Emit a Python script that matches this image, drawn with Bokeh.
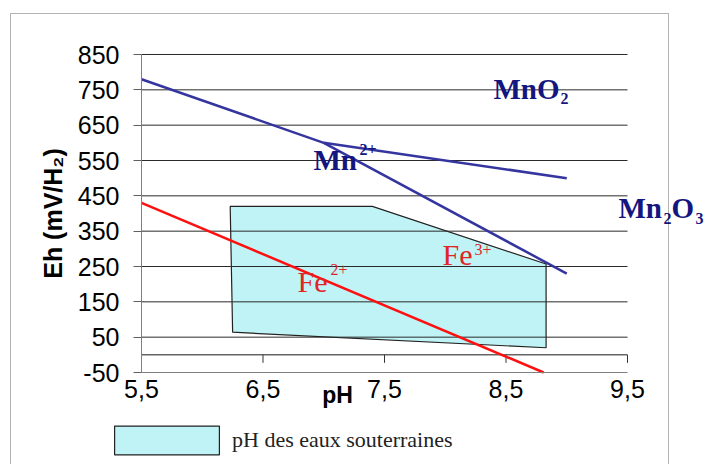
import math
from bokeh.plotting import figure
from bokeh.models import Range1d, FixedTicker, Label, BoxAnnotation
from bokeh.embed import file_html
from bokeh.resources import INLINE

# ---- data ----
x_ticks = [5.5, 6.5, 7.5, 8.5, 9.5]
x_tick_labels = ["5,5", "6,5", "7,5", "8,5", "9,5"]
y_ticks = [-50, 50, 150, 250, 350, 450, 550, 650, 750, 850]
y_tick_labels = ["-50", "50", "150", "250", "350", "450", "550", "650", "750", "850"]

mn_main_ph = [5.5, 7.0, 9.0]
mn_main_eh = [780, 600, 230]
mn_upper_ph = [7.0, 9.0]
mn_upper_eh = [600, 500]
fe_ph = [5.5, 8.81]
fe_eh = [430, -50]
water_ph = [6.23, 7.4, 8.83, 8.83, 6.25]
water_eh = [420, 420, 257, 20, 64]

BLUE_LINE = "#3535a0"
BLUE_TEXT = "#15157f"
RED_LINE = "#ff1010"
RED_TEXT = "#e02525"

# ---- layout: the frame fills the canvas; axes are pinned at fixed locations ----
W, H = 704, 464
FRAME_L, FRAME_R, FRAME_T, FRAME_B = 141, 627, 54, 372
sx = (FRAME_R - FRAME_L) / (x_ticks[-1] - x_ticks[0])
sy = (FRAME_B - FRAME_T) / (y_ticks[-1] - y_ticks[0])
x0 = x_ticks[0] - FRAME_L / sx
x1 = x_ticks[-1] + (W - FRAME_R) / sx
y0 = y_ticks[0] - (H - FRAME_B) / sy
y1 = y_ticks[-1] + FRAME_T / sy


def px(v):
    return x0 + v / sx


def py(v):
    return y1 - v / sy


p = figure(width=W, height=H, output_backend="svg", toolbar_location=None,
           x_range=Range1d(x0, x1), y_range=Range1d(y0, y1),
           min_border_left=0, min_border_right=0, min_border_top=0, min_border_bottom=0)
p.outline_line_color = None
p.background_fill_color = "white"
p.border_fill_color = "white"
p.xgrid.visible = False
p.ygrid.visible = False

# x axis
xa = p.xaxis[0]
xa.fixed_location = y_ticks[0]
xa.bounds = (x_ticks[0], x_ticks[-1])
xa.ticker = FixedTicker(ticks=x_ticks)
xa.major_label_overrides = dict(zip(x_ticks, x_tick_labels))
xa.major_tick_out = 0
xa.major_tick_in = 0
xa.minor_tick_out = 0
xa.minor_tick_in = 0
xa.axis_line_color = "#808080"
xa.major_label_text_font = "Liberation Sans"
xa.major_label_text_font_size = "25px"
xa.major_label_text_color = "black"
xa.major_label_standoff = 7

# y axis
ya = p.yaxis[0]
ya.fixed_location = x_ticks[0]
ya.bounds = (y_ticks[0], y_ticks[-1])
ya.ticker = FixedTicker(ticks=y_ticks)
ya.major_label_overrides = dict(zip(y_ticks, y_tick_labels))
ya.major_tick_out = 8
ya.major_tick_in = 0
ya.minor_tick_out = 0
ya.minor_tick_in = 0
ya.axis_line_color = "#808080"
ya.major_tick_line_color = "#606060"
ya.major_label_text_font = "Liberation Sans"
ya.major_label_text_font_size = "25px"
ya.major_label_text_color = "black"
ya.major_label_standoff = 14
ya.axis_label = "Eh (mV/H₂)"
ya.axis_label_text_font = "Liberation Sans"
ya.axis_label_text_font_size = "25px"
ya.axis_label_text_font_style = "bold"
ya.axis_label_text_color = "black"
ya.axis_label_standoff = 8

# horizontal grid lines between the plot bounds
p.segment(x0=x_ticks[0], x1=x_ticks[-1], y0=y_ticks[1:], y1=y_ticks[1:],
          line_color="#2a2a2a", line_width=1)

# zero line with hanging ticks
p.segment(x0=x_ticks[0], x1=x_ticks[-1], y0=0, y1=0, line_color="#1a1a1a", line_width=1)
p.ray(x=x_ticks, y=[0] * len(x_ticks), length=8, length_units="screen",
      angle=-math.pi / 2, line_color="#333333", line_width=1)

# groundwater zone
water = p.patch(x=water_ph, y=water_eh, fill_color="#bff3f5", line_color="#222222",
                line_width=1.2, legend_label="pH des eaux souterraines")
water.level = "image"

# boundaries
p.line(mn_main_ph, mn_main_eh, line_color=BLUE_LINE, line_width=2.5)
p.line(mn_upper_ph, mn_upper_eh, line_color=BLUE_LINE, line_width=2.5)
p.line(fe_ph, fe_eh, line_color=RED_LINE, line_width=2.5)

# legend (patch swatch is drawn inset by 10% of the glyph box)
lg = p.legend[0]
lg.location = (101, 6)
lg.padding = 0
lg.margin = 0
lg.spacing = 0
lg.border_line_color = None
lg.background_fill_alpha = 0
lg.glyph_width = 131
lg.glyph_height = 36
lg.label_height = 36
lg.label_standoff = -2
lg.label_text_font = "Liberation Serif"
lg.label_text_font_size = "22px"
lg.label_text_color = "#222222"


def add_label(lx, baseline, text, size, color, bold, font="Liberation Serif", align="left"):
    p.add_layout(Label(x=px(lx), y=py(baseline), y_offset=0.36 * size, text=text,
                       text_font=font, text_font_size=f"{size}px",
                       text_font_style="bold" if bold else "normal",
                       text_color=color, text_align=align, text_baseline="alphabetic"))


# species labels (pixel positions: left edge, baseline)
add_label(493, 99, "MnO", 29, BLUE_TEXT, True)
add_label(560, 104, "2", 16, BLUE_TEXT, True)
add_label(313, 170, "Mn", 29, BLUE_TEXT, True)
add_label(359, 155, "2+", 16, BLUE_TEXT, True)
add_label(618, 218, "Mn", 29, BLUE_TEXT, True)
add_label(663, 224, "2", 16, BLUE_TEXT, True)
add_label(671, 218, "O", 29, BLUE_TEXT, True)
add_label(695, 224, "3", 16, BLUE_TEXT, True)
add_label(442, 265, "Fe", 30, RED_TEXT, False)
add_label(474, 255, "3+", 16, RED_TEXT, False)
add_label(297, 292, "Fe", 30, RED_TEXT, False)
add_label(330, 275, "2+", 16, RED_TEXT, False)

# x axis title placed off-centre like the original
add_label(337, 403, "pH", 23, "black", True, font="Liberation Sans", align="center")

# outer chart border
p.add_layout(BoxAnnotation(left=px(10), right=px(668), top=py(13), bottom=py(480),
                           fill_alpha=0, line_color="black", line_width=1))

open("out.html", "w").write(file_html(p, INLINE))
